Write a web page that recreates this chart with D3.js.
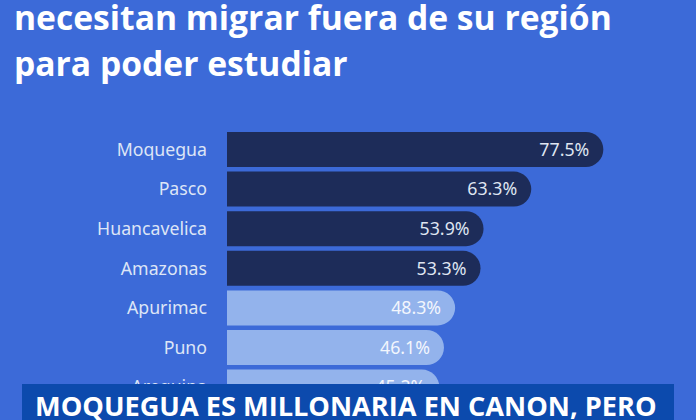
<!DOCTYPE html>
<html>
<head>
<meta charset="utf-8">
<script src="https://cdn.jsdelivr.net/npm/d3@7"></script>
<style>
  html, body { margin: 0; padding: 0; background: #3c6ad8; overflow: hidden; }
  svg { display: block; }
</style>
</head>
<body>
<svg width="696" height="420"></svg>
<script>
// data
var regiones = ["Moquegua", "Pasco", "Huancavelica", "Amazonas", "Apurimac", "Puno", "Arequipa"];
var porcentajes = [77.5, 63.3, 53.9, 53.3, 48.3, 46.1, 45.2];
var destacados = [true, true, true, true, false, false, false];
var tituloLineas = ["necesitan migrar fuera de su región", "para poder estudiar"];
var banner = "MOQUEGUA ES MILLONARIA EN CANON, PERO";

var svg = d3.select("svg"),
    W = +svg.attr("width"),
    H = +svg.attr("height");

var data = regiones.map(function (r, i) {
  return { region: r, valor: porcentajes[i], fuerte: destacados[i] };
});

svg.append("rect").attr("width", W).attr("height", H).attr("fill", "#3c6ad8");

// title
var titulo = svg.append("g");
var tl = titulo.selectAll("text")
  .data(tituloLineas)
  .enter().append("text")
  .attr("x", 14)
  .attr("y", function (d, i) { return 30 + i * 46; })
  .attr("fill", "#ffffff")
  .style("font-family", "'Open Sans', sans-serif")
  .style("font-weight", 700)
  .style("font-size", "31px")
  .text(function (d) { return d; });
// fit line 1 width to the reference
var w1 = tl.nodes()[0].getComputedTextLength();
tl.style("font-size", (31 * 598 / w1) + "px");

var barLeft = 227;

var x = d3.scaleLinear()
  .domain([0, 80])
  .range([210, 616]);

var y = d3.scaleBand()
  .domain(regiones)
  .range([127.4, 409.2])
  .padding(0.116);

function barPath(d) {
  var x0 = barLeft, x1 = x(d.valor), y0 = y(d.region), h = y.bandwidth(), r = h / 2;
  var p = d3.path();
  p.moveTo(x0, y0);
  p.lineTo(x1 - r, y0);
  p.arc(x1 - r, y0 + r, r, -Math.PI / 2, Math.PI / 2);
  p.lineTo(x0, y0 + h);
  p.closePath();
  return p.toString();
}

var g = svg.append("g");

g.selectAll(".bar")
  .data(data)
  .enter().append("path")
  .attr("class", "bar")
  .attr("d", barPath)
  .attr("fill", function (d) { return d.fuerte ? "#1d2c59" : "#93b3ec"; });

var vl = g.selectAll(".valor")
  .data(data)
  .enter().append("text")
  .attr("class", "valor")
  .attr("x", function (d) { return x(d.valor) - 14; })
  .attr("y", function (d) { return y(d.region) + y.bandwidth() / 2; })
  .attr("dy", "0.36em")
  .attr("text-anchor", "end")
  .attr("fill", function (d) { return d.fuerte ? "#dfe5f1" : "#f2f6fd"; })
  .style("font-family", "'Noto Sans', sans-serif")
  .style("font-size", "17px")
  .text(function (d) { return d.valor.toFixed(1) + "%"; });
// fit "77.5%" to reference width
var vw = vl.nodes()[0].getComputedTextLength();
vl.style("font-size", (17 * 50 / vw) + "px");

var yAxis = g.append("g")
  .attr("transform", "translate(207,0)")
  .call(d3.axisLeft(y).tickSize(0).tickPadding(0));
yAxis.select(".domain").remove();
yAxis.selectAll("text")
  .attr("fill", "#dde5f6")
  .attr("dy", "0.36em")
  .style("font-family", "'Noto Sans', sans-serif")
  .style("font-size", "15px");
// fit "Huancavelica" to reference width
var hw = yAxis.selectAll("text").filter(function (d) { return d === "Huancavelica"; }).node().getComputedTextLength();
yAxis.selectAll("text").style("font-size", (15 * 110 / hw) + "px");

// bottom banner
svg.append("rect")
  .attr("x", 22).attr("y", 384)
  .attr("width", 652).attr("height", 40)
  .attr("fill", "#0c4aad");
var bt = svg.append("text")
  .attr("x", 35).attr("y", 416)
  .attr("fill", "#ffffff")
  .style("font-family", "'Open Sans', sans-serif")
  .style("font-weight", 700)
  .style("font-size", "24px")
  .text(banner);
var bw = bt.node().getComputedTextLength();
bt.style("font-size", (24 * 622 / bw) + "px");
</script>
</body>
</html>
